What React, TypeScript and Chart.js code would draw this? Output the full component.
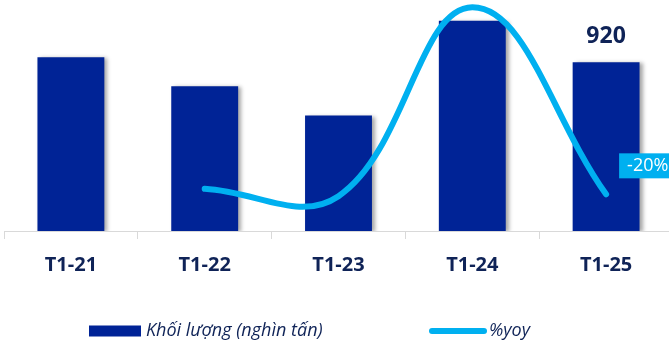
import { useEffect, useRef } from "react";
import { Chart, registerables } from "chart.js";

Chart.register(...registerables);

// Monthly volume (January of each year) and year-over-year change
const categories = ["T1-21", "T1-22", "T1-23", "T1-24", "T1-25"];
const volume = [948, 789, 630, 1147, 920];
const yoy: (number | null)[] = [null, -17, -21, 82, -20];
const volumeLabel = "Khối lượng (nghìn tấn)";
const yoyLabel = "%yoy";

const NAVY = "#002396";
const SKY = "#00B0F0";
const TEXT = "#0F2357";
const AXIS = "#D9D9D9";
const FONT = "'Open Sans', 'DejaVu Sans', sans-serif";

const decorations = {
  id: "decorations",
  beforeDatasetDraw(chart: any, args: any) {
    if (args.index !== 0) return;
    const ctx = chart.ctx;
    ctx.save();
    ctx.shadowColor = "rgba(0,0,0,0.35)";
    ctx.shadowBlur = 4;
    ctx.shadowOffsetX = 3;
    ctx.shadowOffsetY = 1;
  },
  afterDatasetDraw(chart: any, args: any) {
    if (args.index !== 0) return;
    chart.ctx.restore();
  },
  afterDraw(chart: any) {
    const ctx = chart.ctx;
    const last = categories.length - 1;

    // value label above the latest bar
    const bar = chart.getDatasetMeta(0).data[last];
    ctx.save();
    ctx.fillStyle = TEXT;
    ctx.font = `bold 23px ${FONT}`;
    ctx.textAlign = "center";
    ctx.textBaseline = "alphabetic";
    ctx.fillText(String(volume[last]), bar.x, bar.y - 19);

    // yoy callout next to the latest point
    const pt = chart.getDatasetMeta(1).data[last];
    const txt = `${yoy[last]}%`;
    ctx.font = `18px ${FONT}`;
    const w = ctx.measureText(txt).width + 16;
    const bx = pt.x + 13;
    const by = pt.y - 41;
    ctx.fillStyle = SKY;
    ctx.fillRect(bx, by, w, 25);
    ctx.fillStyle = "#FFFFFF";
    ctx.textAlign = "left";
    ctx.textBaseline = "middle";
    ctx.fillText(txt, bx + 8, by + 13);

    // legend
    const ly = 331;
    ctx.fillStyle = NAVY;
    ctx.fillRect(89, ly - 5.5, 52, 11);
    ctx.fillStyle = TEXT;
    ctx.font = `italic 18px ${FONT}`;
    ctx.textAlign = "left";
    ctx.textBaseline = "middle";
    ctx.fillText(volumeLabel, 146, ly);

    ctx.strokeStyle = SKY;
    ctx.lineWidth = 6;
    ctx.lineCap = "round";
    ctx.beginPath();
    ctx.moveTo(432, ly);
    ctx.lineTo(484, ly);
    ctx.stroke();
    ctx.fillStyle = TEXT;
    ctx.fillText(yoyLabel, 489, ly);
    ctx.restore();
  },
};

export default function App() {
  const ref = useRef<HTMLCanvasElement>(null);

  useEffect(() => {
    document.body.style.margin = "0";
    const canvas = ref.current;
    if (!canvas) return;
    const chart = new Chart(canvas, {
      type: "bar",
      data: {
        labels: categories,
        datasets: [
          {
            type: "bar",
            label: volumeLabel,
            data: volume,
            backgroundColor: NAVY,
            barPercentage: 0.5,
            categoryPercentage: 1,
            yAxisID: "y",
            order: 1,
          },
          {
            type: "line",
            label: yoyLabel,
            data: yoy,
            borderColor: SKY,
            borderWidth: 6,
            borderCapStyle: "round",
            tension: 0.4,
            pointRadius: 0,
            fill: false,
            yAxisID: "y1",
            order: 0,
            clip: false,
          } as any,
        ],
      },
      options: {
        responsive: false,
        animation: false,
        devicePixelRatio: 1,
        layout: { padding: { left: 4, right: 0, top: 0, bottom: 55 } },
        plugins: {
          legend: { display: false },
          tooltip: { enabled: false },
        },
        scales: {
          x: {
            offset: true,
            grid: {
              display: true,
              offset: true,
              drawOnChartArea: false,
              drawTicks: true,
              tickLength: 8,
              color: AXIS,
            },
            border: { display: true, color: AXIS, width: 1 },
            ticks: {
              color: TEXT,
              padding: 14,
              font: { family: FONT, size: 20, weight: "bold" },
            },
          },
          y: { display: false, min: 0, max: 1260 },
          y1: { display: false, position: "right", min: -40, max: 86 },
        },
      },
      plugins: [decorations],
    });
    return () => chart.destroy();
  }, []);

  return (
    <div style={{ width: 669, height: 346, overflow: "hidden", position: "relative", background: "#fff" }}>
      <canvas ref={ref} width={673} height={346} style={{ display: "block", width: 673, height: 346 }} />
    </div>
  );
}
